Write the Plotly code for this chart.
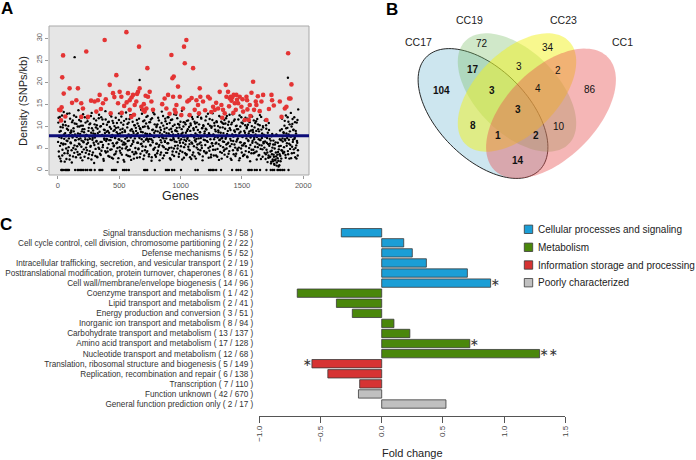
import numpy as np
import plotly.graph_objects as go

W, H = 696, 460
FONT = "Liberation Sans, Arial, Helvetica, sans-serif"


def px(x):
    return x / W


def py(y):
    return 1 - y / H


# ---------------- Panel A data ----------------
# density for genes 3, 7, 11, ...
black_density_a = [
    10.8, 4.2, 7.5, 12.1, 2.6, 8.9, 6.1, 11.4, 3.3, 9.7, 5.8, 13.2, 7.1, 1.9, 8.4, 10.2, 4.9, 6.7, 12.8, 3.8,
    9.1, 5.2, 7.9, 2.4, 11.7, 6.3, 8.6, 4.5, 10.9, 7.4, 3.1, 9.5, 12.4, 5.6, 8.1, 6.8, 2.9, 10.5, 7.7, 4.1,
    8.3, 13.6, 6.0, 9.9, 3.6, 7.2, 11.1, 5.3, 8.8, 2.2, 10.1, 6.5, 4.7, 9.3, 12.0, 7.0, 3.9, 8.0, 5.9, 11.8,
    6.9, 2.7, 9.6, 7.6, 4.3, 10.6, 5.5, 8.5, 13.0, 3.4, 7.3, 9.0, 6.2, 1.6, 10.4, 8.2, 4.8, 11.3, 6.6, 3.0,
    9.4, 7.8, 5.1, 12.6, 8.7, 3.7, 6.4, 10.0, 4.4, 7.9, 11.5, 5.7, 2.5, 9.2, 6.9, 8.4, 13.4, 4.0, 7.1, 10.3,
    5.0, 8.9, 3.2, 11.0, 6.8, 9.8, 4.6, 7.5, 12.2, 2.8, 8.0, 6.1, 10.7, 5.4, 3.5, 9.1, 7.3, 11.9, 4.2, 8.6,
    6.3, 1.8, 9.7, 7.0, 12.9, 5.2, 8.3, 3.9, 10.8, 6.6, 4.9, 9.4, 7.7, 2.3, 11.2, 5.8, 8.7, 6.0, 13.1, 3.4,
    7.4, 10.5, 4.5, 8.1, 6.7, 11.6, 3.1, 9.0, 5.5, 7.9, 12.5, 4.1, 8.8, 6.4, 2.6, 10.2, 7.2, 5.0, 9.6, 3.8,
    11.4, 6.2, 8.4, 4.7, 10.0, 7.6, 2.9, 9.3, 5.9, 13.7, 7.0, 4.3, 8.6, 11.1, 6.5, 3.3, 9.9, 7.8, 5.3, 10.6,
    4.0, 8.2, 12.3, 6.9, 9.5, 3.6, 7.1, 10.9, 5.6, 8.0, 2.1, 11.8, 6.7, 9.2, 4.6, 7.5, 12.7, 5.1, 8.9, 3.0,
    9.8, 6.0, 10.4, 4.4, 7.7, 11.3, 5.7, 8.5, 3.5, 9.1, 6.3, 13.3, 7.4, 2.7, 10.1, 5.2, 8.7, 6.6, 11.7, 4.8,
    7.2, 9.6, 3.9, 12.0, 6.1, 8.3, 5.0, 10.7, 7.9, 2.4, 9.4, 6.8, 11.5, 4.2, 8.1, 7.0, 3.2, 10.3, 5.5, 9.0,
    12.6, 6.4, 8.8, 4.9, 10.5, 7.3, 3.7, 9.7, 6.2, 11.0, 5.4, 8.2, 13.5, 4.1, 7.6, 9.9, 2.8, 6.9, 10.8, 5.8,
    8.5, 3.4, 11.2, 7.1, 9.3, 5.3, 12.4, 6.7, 4.5, 8.9, 10.2, 2.5, 7.8, 6.0, 11.6, 4.0, 9.1, 7.4, 3.1, 10.6,
    6.5, 9.8, 5.1, 8.0, 12.1, 4.7, 7.2, 10.4, 3.6, 8.6, 6.3, 11.9, 5.6, 9.5, 2.2, 7.7, 10.0, 4.3, 8.3, 6.8,
    11.3, 3.8, 9.2, 6.6, 7.9, 12.8, 5.0, 8.4, 4.4, 10.1, 7.0, 2.9, 9.6, 6.1, 11.4, 5.5, 8.1, 3.3, 10.7, 7.5,
    4.6, 8.8, 6.2, 10.9, 3.0, 7.4, 9.0, 5.9, 12.3, 6.9, 4.1, 8.5, 11.0, 2.6, 7.3, 9.7, 5.2, 10.5, 6.4, 3.5,
    9.4, 7.1, 11.8, 4.9, 8.2, 6.0, 10.3, 3.7, 7.8, 12.6, 5.4, 9.1, 6.7, 2.3, 10.8, 8.0, 4.5, 7.6, 11.2, 5.8,
    8.7, 3.2, 10.0, 6.5, 9.3, 4.8, 7.2, 11.5, 5.1, 8.4, 2.7, 9.9, 6.3, 12.0, 4.0, 7.7, 10.6, 5.6, 3.4, 8.9,
    6.1, 10.2, 4.3, 7.9, 9.5, 3.1, 11.7, 6.8, 8.3, 5.0, 10.9, 2.0, 7.4, 9.0, 4.6, 12.2, 6.6, 8.6, 3.8, 7.0,
    9.7, 5.3, 8.1, 11.1, 4.2, 7.5, 6.0, 10.4, 3.3, 8.8, 5.7, 12.5, 6.9, 2.5, 9.2, 7.3, 4.7, 10.0, 6.4, 8.0,
    5.1, 11.3, 7.6, 3.6, 9.4, 6.2, 4.0, 8.5, 2.8, 10.7, 5.5, 7.1, 3.0, 6.7, 1.9, 4.4, 8.2, 2.4, 5.8, 3.5,
    1.4, 4.9, 2.2, 6.3, 3.1, 1.0, 7.8, 2.7, 4.1, 0.8, 5.4, 3.6, 9.0, 2.0, 6.8, 4.5, 11.7, 7.2, 3.9, 8.6,
    5.2, 10.1, 7.0, 3.4, 12.4, 8.3, 6.1, 9.6, 4.3, 11.0, 6.9, 2.6, 8.8, 5.7, 13.0, 7.7, 3.8, 10.5, 6.4, 9.1,
    4.7, 12.0, 7.4, 2.9, 8.9, 5.6, 10.8, 6.2, 3.3, 13.8,
]
# density for genes 1, 5, 9, ...
black_density_b = [
    6.4, 11.9, 3.1, 8.7, 5.5, 9.8, 2.0, 7.3, 12.4, 4.6, 10.3, 6.0, 8.1, 3.8, 11.0, 5.9, 7.7, 2.5, 9.4, 6.6,
    4.4, 10.0, 7.2, 12.9, 3.3, 8.5, 6.1, 9.0, 1.7, 7.9, 11.3, 5.0, 8.8, 3.9, 10.6, 6.8, 4.7, 12.1, 7.5, 5.4,
    9.9, 3.5, 7.0, 11.4, 5.8, 8.2, 2.8, 10.1, 6.7, 4.1, 9.3, 12.7, 6.3, 8.6, 3.0, 7.6, 10.8, 5.1, 8.0, 4.5,
    11.1, 6.2, 8.9, 3.6, 10.4, 7.1, 5.3, 12.3, 2.4, 9.5, 6.9, 4.0, 8.3, 11.7, 5.7, 7.4, 3.2, 9.7, 6.5, 10.2,
    2.9, 8.4, 6.0, 11.8, 4.8, 7.8, 9.9, 3.4, 12.0, 6.4, 8.0, 5.2, 10.5, 2.1, 7.2, 9.1, 4.3, 11.5, 6.6, 8.7,
    7.0, 4.2, 10.9, 5.9, 8.5, 3.0, 12.6, 6.8, 9.4, 4.7, 7.5, 11.2, 2.6, 8.9, 5.6, 10.0, 7.3, 3.7, 9.6, 6.1,
    10.7, 5.0, 8.2, 2.7, 11.4, 6.9, 4.4, 9.2, 7.7, 12.2, 3.5, 8.6, 5.8, 10.3, 6.3, 1.9, 9.0, 7.1, 4.9, 11.6,
    5.3, 9.7, 6.6, 3.2, 10.8, 8.0, 4.6, 12.5, 7.4, 2.3, 9.3, 5.9, 11.0, 6.7, 8.4, 3.6, 10.2, 7.8, 4.1, 8.9,
    8.1, 2.8, 10.6, 6.2, 4.9, 11.7, 7.3, 9.5, 3.7, 8.7, 6.0, 12.8, 5.4, 9.8, 2.5, 7.6, 11.3, 4.5, 8.3, 6.9,
    12.1, 7.2, 4.3, 9.9, 6.5, 3.1, 10.9, 8.2, 5.7, 11.5, 7.0, 2.9, 9.1, 6.3, 13.1, 4.8, 8.5, 10.4, 3.4, 7.7,
    6.0, 10.1, 3.8, 8.8, 11.9, 5.3, 7.5, 2.2, 9.7, 6.8, 4.0, 10.7, 8.1, 5.5, 12.3, 7.2, 3.3, 9.4, 6.4, 11.1,
    3.9, 8.4, 10.5, 6.1, 4.6, 12.0, 7.8, 9.2, 2.7, 6.9, 11.4, 5.1, 8.7, 3.5, 10.0, 7.3, 4.9, 12.7, 6.5, 9.0,
    7.9, 4.1, 9.6, 11.8, 5.6, 8.2, 3.0, 10.3, 6.7, 4.4, 12.4, 7.0, 9.3, 2.4, 8.5, 6.2, 10.9, 5.2, 7.6, 3.8,
    10.4, 6.6, 3.6, 8.9, 7.4, 11.3, 4.7, 9.8, 5.9, 2.9, 10.6, 8.0, 6.3, 12.1, 3.4, 7.8, 9.5, 5.4, 11.0, 6.8,
    8.3, 2.6, 7.1, 10.8, 5.8, 9.1, 3.9, 12.6, 6.0, 8.6, 4.5, 7.3, 11.7, 5.0, 9.6, 3.1, 10.2, 6.9, 4.2, 8.8,
    5.7, 9.4, 12.2, 4.0, 7.6, 6.4, 10.5, 2.8, 8.2, 11.6, 5.3, 7.9, 3.5, 9.9, 6.1, 12.9, 4.6, 8.0, 7.0, 10.1,
    9.2, 6.0, 3.3, 11.1, 7.7, 4.8, 10.0, 8.6, 2.3, 6.8, 9.7, 5.5, 12.0, 7.2, 3.9, 10.7, 6.5, 8.4, 4.4, 11.4,
    4.7, 10.6, 7.4, 5.8, 12.3, 3.0, 8.9, 6.2, 11.0, 4.3, 9.5, 7.1, 2.6, 10.4, 5.9, 8.1, 12.7, 6.6, 3.6, 9.0,
    11.5, 5.1, 8.0, 3.7, 10.1, 6.9, 4.5, 9.3, 7.8, 2.2, 12.4, 6.3, 8.7, 4.9, 10.8, 5.6, 7.5, 3.2, 11.2, 6.0,
    3.5, 8.5, 11.9, 5.4, 7.2, 9.8, 2.9, 10.3, 6.6, 4.1, 8.8, 12.5, 5.7, 7.9, 3.8, 10.0, 6.2, 9.1, 4.6, 11.3,
    7.4, 4.0, 10.7, 6.3, 8.9, 2.4, 11.6, 5.2, 9.3, 7.0, 3.4, 10.2, 6.8, 4.8, 12.1, 5.6, 8.3, 3.0, 9.7, 6.1,
    8.0, 3.9, 6.5, 2.5, 10.2, 4.6, 7.3, 1.8, 5.9, 3.3, 9.1, 2.9, 6.0, 4.2, 1.5, 7.7, 3.6, 5.1, 2.0, 6.7,
    3.0, 1.2, 5.8, 2.4, 4.0, 8.1, 1.7, 3.5, 6.2, 2.1, 4.7, 1.1, 7.0, 3.2, 5.5, 2.6, 9.3, 4.4, 6.5, 3.8,
    8.4, 4.1, 11.2, 6.7, 2.8, 9.5, 5.5, 7.3, 12.0, 3.6, 8.1, 6.0, 10.4, 4.8, 7.6, 2.7, 9.9, 5.3, 11.6, 6.9,
    9.2, 3.9, 7.1, 10.9, 5.0, 8.3, 2.6, 6.6, 11.4, 4.5,
]
# gene index (category) for each black value
black_genes_a = list(range(3, 3 + 4 * len(black_density_a), 4))
black_genes_b = list(range(1, 1 + 4 * len(black_density_b), 4))

zero_genes = [27, 33, 41, 58, 66, 74, 82, 90, 140, 160, 171, 183, 195, 207, 226, 240, 262, 271,
              300, 338, 350, 362, 440, 452, 463, 474, 530, 545, 560, 578, 703, 716, 728, 790,
              880, 892, 905, 930, 948, 1003, 1121, 1140, 1232, 1245, 1258, 1270, 1290, 1330,
              1420, 1455, 1470, 1488, 1552, 1565, 1580, 1605, 1622, 1648, 1700, 1735, 1750,
              1763, 1790, 1802, 1815, 1830, 1845, 1880]
zero_density = [0.0] * len(zero_genes)

outlier_genes = [136, 666, 1875]
outlier_density = [25.7, 20.5, 21.0]

red_genes = [10, 20, 25, 30, 35, 42, 47, 60, 95, 115, 150, 163, 190, 204, 190, 231, 245, 270, 299,
             313, 326, 340, 350, 367, 381, 390, 422, 430, 449, 460, 476, 490, 503, 517, 520, 540,
             558, 560, 571, 585, 585, 598, 600, 612, 620, 626, 639, 645, 653, 661, 666, 680, 694,
             700, 707, 715, 721, 729, 734, 748, 762, 775, 850, 870, 884, 898, 910, 925, 933, 939,
             944, 952, 960, 966, 979, 993, 1006, 1020, 1028, 1034, 1047, 1055, 1069, 1074, 1090,
             1102, 1115, 1129, 1142, 1150, 1156, 1161, 1183, 1200, 1224, 1238, 1250, 1265, 1279,
             1290, 1306, 1319, 1333, 1340, 1346, 1360, 1368, 1374, 1387, 1395, 1401, 1409, 1415,
             1423, 1430, 1433, 1442, 1450, 1455, 1460, 1469, 1482, 1496, 1505, 1510, 1523, 1537,
             1542, 1545, 1556, 1564, 1570, 1578, 1591, 1599, 1613, 1618, 1630, 1645, 1659, 1673,
             1700, 1720, 1741, 1746, 1760, 1809, 1823, 1850, 1863, 1877, 1885, 1896, 1904]
red_density = [13.7, 13.6, 11.3, 14.3, 21.1, 26.1, 17.4, 12.2, 18.6, 15.3, 15.9, 18.6, 15.2, 14.0, 12.1,
               27.0, 12.1, 15.8, 15.6, 13.3, 15.9, 17.1, 13.9, 15.2, 29.6, 16.1, 19.4, 12.9, 17.5, 16.6,
               21.6, 15.2, 17.8, 16.7, 13.0, 14.6, 31.4, 15.4, 17.5, 15.9, 13.7, 12.1, 16.5, 17.1, 12.6,
               14.8, 15.6, 17.3, 17.8, 28.1, 18.6, 14.4, 13.7, 15.0, 13.3, 16.9, 14.0, 23.2, 16.7, 17.8,
               15.6, 13.7, 15.0, 16.3, 14.0, 17.1, 12.8, 26.2, 20.9, 16.7, 21.3, 13.7, 13.1, 14.8, 19.0,
               16.7, 12.5, 14.0, 28.1, 24.3, 29.6, 15.6, 15.9, 12.5, 16.4, 23.2, 13.7, 15.9, 14.8, 12.9,
               18.6, 16.7, 15.6, 13.6, 16.7, 16.3, 13.2, 14.4, 13.7, 15.3, 14.0, 17.8, 14.8, 11.9, 13.7,
               12.9, 19.4, 16.7, 17.8, 14.5, 16.3, 16.7, 15.8, 16.6, 13.0, 17.1, 15.2, 13.7, 17.1, 16.0,
               15.2, 16.7, 14.4, 16.1, 13.3, 11.4, 16.7, 15.9, 13.8, 11.4, 14.8, 12.3, 17.6, 20.1, 13.7,
               15.6, 14.8, 16.8, 13.4, 15.6, 17.1, 11.4, 13.9, 17.1, 15.9, 14.7, 15.6, 12.1, 14.0, 14.4,
               26.6, 16.3, 16.3, 19.5]
mean_density = 7.8
a_xticks = [0, 500, 1000, 1500, 2000]
a_yticks = [0, 5, 10, 15, 20, 25, 30]

# ---------------- Panel B data ----------------
set_names = ["CC17", "CC19", "CC23", "CC1"]
venn_regions = ["CC19", "CC23", "CC17&CC19", "CC19&CC23", "CC23&CC1", "CC17", "CC17&CC19&CC23",
                "CC19&CC23&CC1", "CC1", "CC17&CC19&CC23&CC1", "CC17&CC23", "CC17&CC23&CC1",
                "CC17&CC19&CC1", "CC19&CC1", "CC17&CC1"]
venn_counts = [72, 34, 17, 3, 2, 104, 3, 4, 86, 3, 8, 1, 2, 10, 14]

# ---------------- Panel C data ----------------
cog_names = [
    "Signal transduction mechanisms",
    "Cell cycle control, cell division, chromosome partitioning",
    "Defense mechanisms",
    "Intracellular trafficking, secretion, and vesicular transport",
    "Posttranslational modification, protein turnover, chaperones",
    "Cell wall/membrane/envelope biogenesis",
    "Coenzyme transport and metabolism",
    "Lipid transport and metabolism",
    "Energy production and conversion",
    "Inorganic ion transport and metabolism",
    "Carbohydrate transport and metabolism",
    "Amino acid transport and metabolism",
    "Nucleotide transport and metabolism",
    "Translation, ribosomal structure and biogenesis",
    "Replication, recombination and repair",
    "Transcription",
    "Function unknown",
    "General function prediction only",
]
n_hit = [3, 2, 5, 2, 8, 14, 1, 2, 3, 8, 13, 17, 12, 5, 6, 7, 42, 2]
n_total = [58, 22, 52, 19, 61, 96, 42, 41, 51, 94, 137, 128, 68, 149, 138, 110, 670, 17]
fold_change = [-0.33, 0.18, 0.25, 0.365, 0.70, 0.89, -0.69, -0.37, -0.24, 0.10, 0.23, 0.72, 1.29,
               -0.57, -0.44, -0.18, -0.19, 0.525]
cog_group = ["Cellular processes and signaling"] * 6 + ["Metabolism"] * 7 + \
            ["Information storage and processing"] * 3 + ["Poorly characterized"] * 2
significance = ["", "", "", "", "", "*", "", "", "", "", "", "*", "**", "*", "", "", "", ""]
group_names = ["Cellular processes and signaling", "Metabolism",
               "Information storage and processing", "Poorly characterized"]
c_xticks = [-1.0, -0.5, 0.0, 0.5, 1.0, 1.5]
c_xticktext = ["\u22121.0", "\u22120.5", "0.0", "0.5", "1.0", "1.5"]

# ---------------- styles ----------------
group_colors = {
    "Cellular processes and signaling": "#1b9ed6",
    "Metabolism": "#4a870b",
    "Information storage and processing": "#d63333",
    "Poorly characterized": "#c0c0c0",
}

fig = go.Figure()

# Panel A traces
fig.add_trace(go.Scatter(x=black_genes_a + black_genes_b + zero_genes + outlier_genes,
                         y=black_density_a + black_density_b + zero_density + outlier_density,
                         mode="markers", marker=dict(color="black", size=2.4),
                         xaxis="x", yaxis="y", showlegend=False, hoverinfo="skip"))
fig.add_trace(go.Scatter(x=red_genes, y=red_density, mode="markers",
                         marker=dict(color="rgb(228,52,52)", size=4.6),
                         xaxis="x", yaxis="y", showlegend=False, hoverinfo="skip"))

# Panel C traces
ticktext = [f"{n} ( {a} / {b} )" for n, a, b in zip(cog_names, n_hit, n_total)]
idx = list(range(len(cog_names)))
fig.add_trace(go.Bar(x=fold_change, y=idx, orientation="h",
                     marker=dict(color=[group_colors[g] for g in cog_group],
                                 line=dict(color="#3a3a3a", width=0.8)),
                     xaxis="x2", yaxis="y2", showlegend=False, hoverinfo="skip"))
star = lambda s: s.replace("*", "\u2217")
pos_i = [i for i in idx if significance[i] and fold_change[i] > 0]
neg_i = [i for i in idx if significance[i] and fold_change[i] < 0]
fig.add_trace(go.Scatter(x=[fold_change[i] for i in pos_i], y=pos_i,
                         text=[star(significance[i]) for i in pos_i], mode="text",
                         textposition="middle right",
                         textfont=dict(family="DejaVu Sans", size=11, color="#333"),
                         xaxis="x2", yaxis="y2", showlegend=False, hoverinfo="skip",
                         cliponaxis=False))
fig.add_trace(go.Scatter(x=[fold_change[i] for i in neg_i], y=neg_i,
                         text=[star(significance[i]) for i in neg_i], mode="text",
                         textposition="middle left",
                         textfont=dict(family="DejaVu Sans", size=11, color="#333"),
                         xaxis="x2", yaxis="y2", showlegend=False, hoverinfo="skip",
                         cliponaxis=False))

shapes = []
annotations = []

# Panel A background / frame and mean line
shapes.append(dict(type="rect", xref="x domain", yref="y domain", x0=0, x1=1, y0=0, y1=1,
                   fillcolor="#e6e6e6", line=dict(color="#a9a9a9", width=1), layer="below"))
shapes.append(dict(type="line", xref="x domain", yref="y", x0=0, x1=1,
                   y0=mean_density, y1=mean_density, line=dict(color="#0c0c78", width=3)))

# Panel B ellipses
def ellipse_path(cx, cy, a, b, ang):
    t = np.linspace(0, 2 * np.pi, 120)
    th = np.radians(ang)
    xs = cx + a * np.cos(t) * np.cos(th) - b * np.sin(t) * np.sin(th)
    ys = cy + a * np.cos(t) * np.sin(th) + b * np.sin(t) * np.cos(th)
    pts = [f"{px(x):.5f},{py(y):.5f}" for x, y in zip(xs, ys)]
    return "M" + " L".join(pts) + " Z"

ellipses = [
    (483, 113.5, 80, 45, 45, "rgba(100,178,206,0.32)", "#111", 0.9),
    (517, 92.5, 73, 41, 45, "rgba(120,190,100,0.35)", "rgba(0,0,0,0)", 0),
    (517, 92.5, 73, 41, -45, "rgba(242,242,30,0.5)", "rgba(0,0,0,0)", 0),
    (551, 113.5, 80, 45, -45, "rgba(232,80,80,0.42)", "rgba(0,0,0,0)", 0),
]
for cx, cy, a, b, ang, fc, lc, lw in ellipses:
    shapes.append(dict(type="path", xref="paper", yref="paper", path=ellipse_path(cx, cy, a, b, ang),
                       fillcolor=fc, line=dict(color=lc, width=lw), layer="above"))

set_label_pos = [(418.3, 41.7), (469.7, 20), (563.3, 20), (622.7, 41.7)]
for name, (x, y) in zip(set_names, set_label_pos):
    annotations.append(dict(x=px(x), y=py(y), xref="paper", yref="paper", text=name, showarrow=False,
                            xanchor="center", yanchor="middle",
                            font=dict(family=FONT, size=10.5, color="#222")))

venn_pos = [(481.7, 43.3), (548.3, 47.7), (473.3, 69.3), (519, 66.7), (558.3, 70), (441.7, 91),
            (492.3, 91), (537.7, 88.3), (590, 89.3), (518.3, 110), (473.3, 125), (497.7, 135),
            (536, 135), (559.3, 126.7), (518.3, 160)]
for reg, cnt, (x, y) in zip(venn_regions, venn_counts, venn_pos):
    bold = "CC17" in reg.split("&")
    annotations.append(dict(x=px(x), y=py(y), xref="paper", yref="paper",
                            text=f"<b>{cnt}</b>" if bold else str(cnt), showarrow=False,
                            xanchor="center", yanchor="middle",
                            font=dict(family=FONT, size=10, color="#111")))

# Panel C legend (manual)
leg_rows = [229.3, 247.3, 265.0, 282.7]
for g, yy in zip(group_names, leg_rows):
    shapes.append(dict(type="rect", xref="paper", yref="paper",
                       x0=px(524.3), x1=px(532.7), y0=py(yy + 4.2), y1=py(yy - 4.2),
                       fillcolor=group_colors[g], line=dict(color="#3a3a3a", width=0.8)))
    annotations.append(dict(x=px(535.5), y=py(yy), xref="paper", yref="paper", text=g,
                            showarrow=False, xanchor="left", yanchor="middle",
                            font=dict(family=FONT, size=10, color="#222")))

# Axis titles and panel letters
annotations += [
    dict(x=px(181), y=py(196), xref="paper", yref="paper", text="Genes", showarrow=False,
         xanchor="center", yanchor="middle", font=dict(family=FONT, size=12.5, color="#222")),
    dict(x=px(23), y=py(101), xref="paper", yref="paper", text="Density (SNPs/kb)", showarrow=False,
         textangle=-90, xanchor="center", yanchor="middle",
         font=dict(family=FONT, size=11, color="#222")),
    dict(x=px(412), y=py(453), xref="paper", yref="paper", text="Fold change", showarrow=False,
         xanchor="center", yanchor="middle", font=dict(family=FONT, size=11, color="#222")),
    dict(x=px(7), y=py(8), xref="paper", yref="paper", text="<b>A</b>", showarrow=False,
         xanchor="center", yanchor="middle", font=dict(family=FONT, size=17, color="#000")),
    dict(x=px(392), y=py(9), xref="paper", yref="paper", text="<b>B</b>", showarrow=False,
         xanchor="center", yanchor="middle", font=dict(family=FONT, size=17, color="#000")),
    dict(x=px(6), y=py(224), xref="paper", yref="paper", text="<b>C</b>", showarrow=False,
         xanchor="center", yanchor="middle", font=dict(family=FONT, size=17, color="#000")),
]

tickfont_small = dict(family=FONT, size=7.5, color="#555")
fig.update_layout(
    template="none",
    width=W, height=H, autosize=False,
    margin=dict(l=0, r=0, t=0, b=0),
    paper_bgcolor="white", plot_bgcolor="rgba(0,0,0,0)",
    font=dict(family=FONT),
    bargap=0.17,
    showlegend=False,
    hovermode=False,
    xaxis=dict(domain=[px(49), px(309)], range=[-73, 2047], anchor="y",
               tickvals=a_xticks, ticks="outside", ticklen=3, tickcolor="#999",
               tickfont=tickfont_small, showgrid=False, zeroline=False, showline=False,
               automargin=False, fixedrange=True),
    yaxis=dict(domain=[py(175), py(26)], range=[-1.14, 32.8], anchor="x",
               tickvals=a_yticks, tickangle=-90, ticks="outside", ticklen=3, tickcolor="#999",
               tickfont=tickfont_small, showgrid=False, zeroline=False, showline=False,
               automargin=False, fixedrange=True),
    xaxis2=dict(domain=[px(259.3), px(565.3)], range=[-1.0, 1.5], anchor="y2",
                tickvals=c_xticks, ticktext=c_xticktext, tickangle=-90,
                ticks="outside", ticklen=6, tickcolor="#555", showline=True, linecolor="#555",
                linewidth=1, tickfont=dict(family=FONT, size=8, color="#444"),
                showgrid=False, zeroline=False, automargin=False, fixedrange=True),
    yaxis2=dict(domain=[py(415.7), py(227.7)], range=[18.16, -0.5], anchor="x2",
                tickvals=idx, ticktext=ticktext, ticks="", showline=False, showgrid=False,
                zeroline=False, ticklabelstandoff=5,
                tickfont=dict(family=FONT, size=8.2, color="#333"), automargin=False,
                fixedrange=True),
    shapes=shapes,
    annotations=annotations,
)

fig.write_html("out.html", config={"displayModeBar": False, "staticPlot": True},
               post_script="document.body.style.margin='0';document.body.style.overflow='hidden';")
